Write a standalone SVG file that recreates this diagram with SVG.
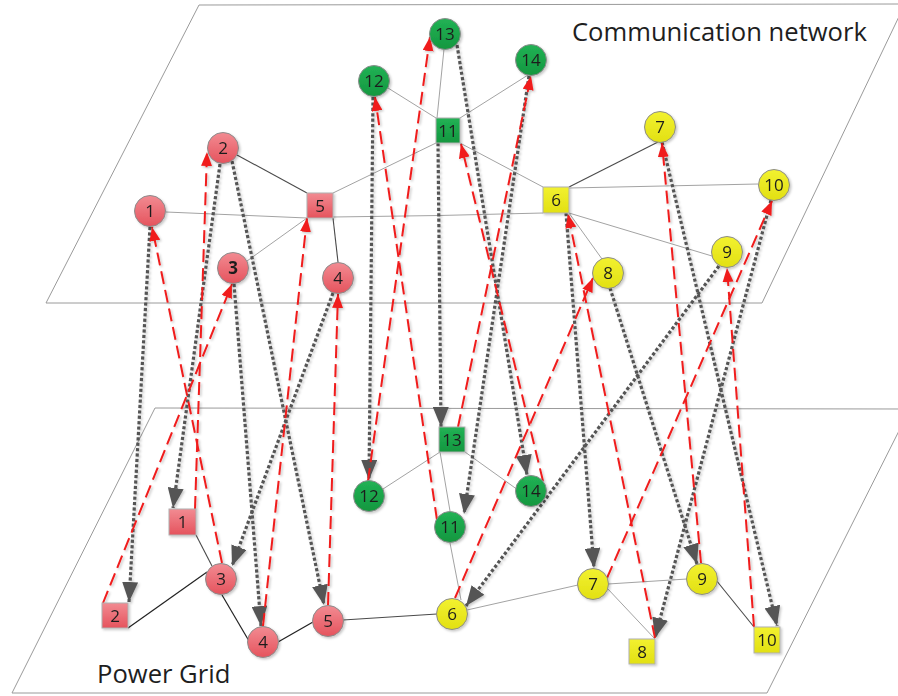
<svg xmlns="http://www.w3.org/2000/svg" width="898" height="696" viewBox="0 0 898 696">
  <defs>
    <style>
      .plane { fill: none; stroke: #9a9a9a; stroke-width: 1; }
      .e-thin { stroke: #a3a3a3; stroke-width: 1; fill: none; }
      .e-dark { stroke: #4a4a4a; stroke-width: 1.1; fill: none; }
      .e-black { stroke: #222; stroke-width: 1.2; fill: none; }
      .down { stroke: #555555; stroke-width: 3.2; stroke-dasharray: 3.2 2.2; fill: none; marker-end: url(#headGray); }
      .up { stroke: #f01c1c; stroke-width: 2; stroke-dasharray: 13 6; fill: none; marker-end: url(#headRed); }
      .red { fill: url(#gRed); stroke: #8c8c8c; stroke-width: 1; }
      .green { fill: url(#gGreen); stroke: #8c8c8c; stroke-width: 1; }
      .yellow { fill: url(#gYellow); stroke: #8c8c8c; stroke-width: 1; }
      .sq-red { fill: url(#gRed); stroke: #b0b0b0; stroke-width: 1; }
      .sq-green { fill: url(#gGreen); stroke: #b0b0b0; stroke-width: 1; }
      .sq-yellow { fill: url(#gYellow); stroke: #b0b0b0; stroke-width: 1; }
      .lbl { font-family: "Open Sans", "Liberation Sans", sans-serif; font-size: 17px; fill: #1e1e1e; text-anchor: middle; }
      .title { font-family: "Open Sans", "Liberation Sans", sans-serif; font-size: 25.6px; fill: #1e1e1e; }
    </style>
    <linearGradient id="gRed" x1="0" y1="0" x2="0" y2="1">
      <stop offset="0" stop-color="#f28b92"/>
      <stop offset="1" stop-color="#e5535d"/>
    </linearGradient>
    <linearGradient id="gGreen" x1="0" y1="0" x2="0" y2="1">
      <stop offset="0" stop-color="#22b255"/>
      <stop offset="1" stop-color="#14973f"/>
    </linearGradient>
    <linearGradient id="gYellow" x1="0" y1="0" x2="0" y2="1">
      <stop offset="0" stop-color="#f2f130"/>
      <stop offset="1" stop-color="#e2e013"/>
    </linearGradient>
    <marker id="headGray" markerUnits="userSpaceOnUse" markerWidth="20" markerHeight="16" viewBox="0 0 20 16" refX="20" refY="8" orient="auto">
      <path d="M0,0 L20,8 L0,16 z" fill="#555555"/>
    </marker>
    <marker id="headRed" markerUnits="userSpaceOnUse" markerWidth="14" markerHeight="11" viewBox="0 0 14 11" refX="14" refY="5.5" orient="auto">
      <path d="M0,0 L14,5.5 L0,11 z" fill="#f01c1c"/>
    </marker>
    <filter id="shadow" x="-20%" y="-20%" width="140%" height="140%">
      <feDropShadow dx="1.5" dy="1.5" stdDeviation="1" flood-color="#000" flood-opacity="0.22"/>
    </filter>
  </defs>

  <rect width="898" height="696" fill="#ffffff"/>

  <!-- two layer planes -->
  <g id="planes">
    <polygon class="plane" points="46,303 199,5 905,4 762,303"/>
    <polygon class="plane" points="12,693 155,408 910,409 767,693"/>
    <text class="title" x="572" y="41">Communication network</text>
    <text class="title" x="97" y="683">Power Grid</text>
  </g>

  <!-- links inside each layer -->
  <g id="edges">
    <!-- upper layer -->
    <line class="e-thin" x1="166" y1="212" x2="307" y2="218"/>
    <path class="e-thin" d="M333,217 Q440,216 543,213"/>
    <line class="e-dark" x1="237" y1="155" x2="307" y2="193"/>
    <line class="e-thin" x1="247" y1="261" x2="307" y2="218"/>
    <line class="e-dark" x1="333" y1="218" x2="338" y2="262"/>
    <line class="e-thin" x1="333" y1="193" x2="436" y2="143"/>
    <line class="e-thin" x1="388" y1="88" x2="436" y2="118"/>
    <line class="e-thin" x1="444" y1="49" x2="437" y2="118"/>
    <line class="e-thin" x1="528" y1="75" x2="460" y2="118"/>
    <line class="e-thin" x1="460" y1="143" x2="543" y2="187"/>
    <line class="e-dark" x1="569" y1="187" x2="658" y2="142"/>
    <line class="e-thin" x1="569" y1="188" x2="758" y2="184"/>
    <line class="e-thin" x1="569" y1="213" x2="712" y2="256"/>
    <line class="e-thin" x1="569" y1="213" x2="602" y2="259"/>
    <!-- lower layer -->
    <line class="e-dark" x1="196" y1="535" x2="212" y2="566"/>
    <line class="e-black" x1="128" y1="628" x2="207" y2="572"/>
    <line class="e-black" x1="222" y1="595" x2="249" y2="641"/>
    <line class="e-black" x1="278" y1="642" x2="313" y2="622"/>
    <line class="e-dark" x1="343" y1="620" x2="437" y2="614"/>
    <line class="e-thin" x1="467" y1="610" x2="578" y2="585"/>
    <line class="e-thin" x1="450" y1="543" x2="461" y2="600"/>
    <line class="e-thin" x1="440" y1="452" x2="450" y2="511"/>
    <line class="e-thin" x1="440" y1="452" x2="383" y2="489"/>
    <line class="e-thin" x1="465" y1="452" x2="518" y2="490"/>
    <line class="e-thin" x1="608" y1="584" x2="687" y2="579"/>
    <line class="e-thin" x1="607" y1="588" x2="655" y2="639"/>
    <line class="e-dark" x1="716" y1="580" x2="754" y2="627"/>
  </g>

  <!-- couplings between the layers -->
  <g id="connectors" filter="url(#shadow)">
    <!-- communication node to grid node -->
    <line class="down" x1="150" y1="227" x2="129" y2="602"/>
    <line class="down" x1="220" y1="164" x2="173" y2="508"/>
    <line class="down" x1="232" y1="161" x2="324" y2="605"/>
    <line class="down" x1="234" y1="284" x2="261" y2="626"/>
    <line class="down" x1="333" y1="293" x2="232" y2="566"/>
    <line class="down" x1="373" y1="97" x2="369" y2="480"/>
    <line class="down" x1="438" y1="143" x2="441" y2="427"/>
    <line class="down" x1="457" y1="45" x2="527" y2="475"/>
    <line class="down" x1="529" y1="76" x2="464" y2="514"/>
    <line class="down" x1="566" y1="213" x2="594" y2="568"/>
    <line class="down" x1="610" y1="288" x2="697" y2="564"/>
    <line class="down" x1="719" y1="266" x2="466" y2="606"/>
    <line class="down" x1="662" y1="142" x2="777" y2="626"/>
    <line class="down" x1="771" y1="200" x2="655" y2="638"/>
    <!-- grid node to communication node -->
    <line class="up" x1="103" y1="603" x2="232" y2="284"/>
    <line class="up" x1="195" y1="509" x2="207" y2="152"/>
    <line class="up" x1="222" y1="563" x2="152" y2="227"/>
    <line class="up" x1="263" y1="626" x2="307" y2="218"/>
    <line class="up" x1="328" y1="605" x2="338" y2="294"/>
    <line class="up" x1="368" y1="481" x2="430" y2="37"/>
    <line class="up" x1="437" y1="520" x2="375" y2="97"/>
    <line class="up" x1="458" y1="427" x2="531" y2="76"/>
    <line class="up" x1="543" y1="481" x2="461" y2="144"/>
    <line class="up" x1="455" y1="598" x2="593" y2="278"/>
    <line class="up" x1="607" y1="578" x2="772" y2="201"/>
    <line class="up" x1="655" y1="638" x2="568" y2="214"/>
    <line class="up" x1="701" y1="563" x2="662" y2="143"/>
    <line class="up" x1="754" y1="627" x2="727" y2="268"/>
  </g>

  <!-- communication network nodes -->
  <g id="c1" filter="url(#shadow)"><circle class="red" cx="150" cy="211" r="15.5"/><text class="lbl" x="150" y="217">1</text></g>
  <g id="c2" filter="url(#shadow)"><circle class="red" cx="223" cy="148" r="15.5"/><text class="lbl" x="223" y="154">2</text></g>
  <g id="c3" filter="url(#shadow)"><circle class="red" cx="233" cy="268" r="15.5"/><text class="lbl" x="233" y="274" font-weight="bold">3</text></g>
  <g id="c4" filter="url(#shadow)"><circle class="red" cx="338" cy="278" r="15.5"/><text class="lbl" x="338" y="284">4</text></g>
  <g id="c5" filter="url(#shadow)"><rect class="sq-red" x="307" y="193" width="26" height="25"/><text class="lbl" x="320" y="211.5">5</text></g>
  <g id="c6" filter="url(#shadow)"><rect class="sq-yellow" x="543" y="187" width="26" height="26"/><text class="lbl" x="556" y="206">6</text></g>
  <g id="c7" filter="url(#shadow)"><circle class="yellow" cx="660" cy="127" r="15.5"/><text class="lbl" x="660" y="133">7</text></g>
  <g id="c8" filter="url(#shadow)"><circle class="yellow" cx="608" cy="273" r="15.5"/><text class="lbl" x="608" y="279">8</text></g>
  <g id="c9" filter="url(#shadow)"><circle class="yellow" cx="727" cy="252" r="15.5"/><text class="lbl" x="727" y="258">9</text></g>
  <g id="c10" filter="url(#shadow)"><circle class="yellow" cx="774" cy="185" r="15.5"/><text class="lbl" x="774" y="191">10</text></g>
  <g id="c11" filter="url(#shadow)"><rect class="sq-green" x="436" y="118" width="24" height="25"/><text class="lbl" x="448" y="136.5">11</text></g>
  <g id="c12" filter="url(#shadow)"><circle class="green" cx="374" cy="81" r="15.5"/><text class="lbl" x="374" y="87">12</text></g>
  <g id="c13" filter="url(#shadow)"><circle class="green" cx="445" cy="34" r="15.5"/><text class="lbl" x="445" y="40">13</text></g>
  <g id="c14" filter="url(#shadow)"><circle class="green" cx="531" cy="60" r="15.5"/><text class="lbl" x="531" y="66">14</text></g>

  <!-- power grid nodes -->
  <g id="p1" filter="url(#shadow)"><rect class="sq-red" x="169" y="509" width="27" height="26"/><text class="lbl" x="182.5" y="528">1</text></g>
  <g id="p2" filter="url(#shadow)"><rect class="sq-red" x="102" y="603" width="26" height="25"/><text class="lbl" x="115" y="621.5">2</text></g>
  <g id="p3" filter="url(#shadow)"><circle class="red" cx="221" cy="579" r="15.5"/><text class="lbl" x="221" y="585">3</text></g>
  <g id="p4" filter="url(#shadow)"><circle class="red" cx="263" cy="642" r="15.5"/><text class="lbl" x="263" y="648">4</text></g>
  <g id="p5" filter="url(#shadow)"><circle class="red" cx="328" cy="621" r="15.5"/><text class="lbl" x="328" y="627">5</text></g>
  <g id="p6" filter="url(#shadow)"><circle class="yellow" cx="452" cy="614" r="15.5"/><text class="lbl" x="452" y="620">6</text></g>
  <g id="p7" filter="url(#shadow)"><circle class="yellow" cx="593" cy="584" r="15.5"/><text class="lbl" x="593" y="590">7</text></g>
  <g id="p8" filter="url(#shadow)"><rect class="sq-yellow" x="629" y="639" width="26" height="25"/><text class="lbl" x="642" y="657.5">8</text></g>
  <g id="p9" filter="url(#shadow)"><circle class="yellow" cx="702" cy="579" r="15.5"/><text class="lbl" x="702" y="585">9</text></g>
  <g id="p10" filter="url(#shadow)"><rect class="sq-yellow" x="754" y="627" width="26" height="26"/><text class="lbl" x="767" y="646">10</text></g>
  <g id="p11" filter="url(#shadow)"><circle class="green" cx="450" cy="527" r="15.5"/><text class="lbl" x="450" y="533">11</text></g>
  <g id="p12" filter="url(#shadow)"><circle class="green" cx="369" cy="496" r="15.5"/><text class="lbl" x="369" y="502">12</text></g>
  <g id="p13" filter="url(#shadow)"><rect class="sq-green" x="439" y="427" width="26" height="25"/><text class="lbl" x="452" y="445.5">13</text></g>
  <g id="p14" filter="url(#shadow)"><circle class="green" cx="531" cy="491" r="15.5"/><text class="lbl" x="531" y="497">14</text></g>
</svg>
